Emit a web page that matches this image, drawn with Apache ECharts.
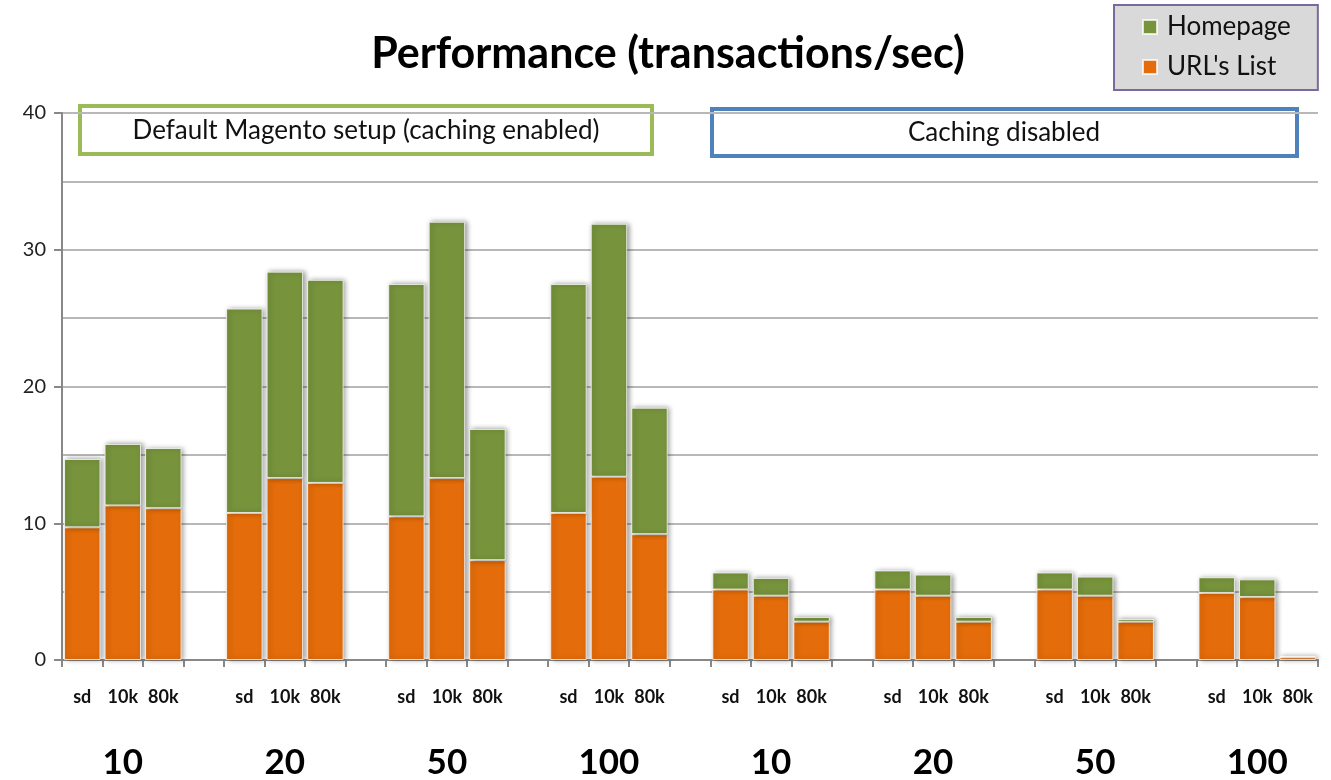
<!DOCTYPE html>
<html>
<head>
<meta charset="utf-8">
<script src="https://cdn.jsdelivr.net/npm/echarts@6/dist/echarts.min.js"></script>
<style>
html,body{margin:0;padding:0;background:#fff;}
#chart{width:1331px;height:780px;}
</style>
</head>
<body>
<div id="chart"></div>
<script>
// ---- data ----
var groupLabels = ['10', '20', '50', '100', '10', '20', '50', '100'];
var subLabels = ['sd', '10k', '80k'];
var urlList = [
  9.7, 11.3, 11.1,
  10.75, 13.3, 12.95,
  10.5, 13.3, 7.3,
  10.75, 13.4, 9.2,
  5.15, 4.7, 2.8,
  5.15, 4.7, 2.8,
  5.15, 4.7, 2.8,
  4.9, 4.6, 0.2
];
var homepage = [
  5.0, 4.5, 4.4,
  14.95, 15.1, 14.85,
  17.0, 18.75, 9.6,
  16.75, 18.5, 9.25,
  1.25, 1.3, 0.35,
  1.4, 1.55, 0.35,
  1.25, 1.4, 0.2,
  1.15, 1.3, 0.1
];
var yTicks = [0, 10, 20, 30, 40];

// ---- build 31-slot category axis (3 bars + gap per group) ----
var cats = [], groupCats = [], urlData = [], homeData = [];
for (var g = 0; g < groupLabels.length; g++) {
  for (var s = 0; s < 3; s++) {
    var i = g * 3 + s;
    cats.push(subLabels[s]);
    groupCats.push(s === 1 ? groupLabels[g] : '');
    urlData.push(urlList[i]);
    homeData.push(homepage[i]);
  }
  if (g < groupLabels.length - 1) {
    cats.push(' ');
    groupCats.push(' ');
    urlData.push(null);
    homeData.push(null);
  }
}

var FONT = 'Lato, "Open Sans", sans-serif';
var chart = echarts.init(document.getElementById('chart'), null, {renderer: 'canvas'});

var barStyle = function (color) {
  return {
    color: color,
    borderColor: 'rgba(255,255,255,0.75)',
    borderWidth: 1,
    shadowColor: 'rgba(0,0,0,0.4)',
    shadowBlur: 5,
    shadowOffsetX: 2,
    shadowOffsetY: 0
  };
};

var option = {
  backgroundColor: '#ffffff',
  animation: false,
  title: {
    text: 'Performance (transactions/sec)',
    left: 663,
    textAlign: 'center',
    top: 28,
    textStyle: {fontFamily: FONT, fontWeight: 'bold', fontSize: 43, color: '#000'}
  },
  legend: {
    data: ['Homepage', "URL's List"],
    orient: 'vertical',
    left: 1114,
    top: 5,
    backgroundColor: '#d9d9d9',
    borderColor: '#7a6a9a',
    borderWidth: 2,
    borderRadius: 0,
    padding: [9, 27, 10, 28],
    itemGap: 14,
    itemWidth: 14,
    itemHeight: 14,
    icon: 'rect',
    textStyle: {fontFamily: FONT, fontSize: 26, color: '#111', padding: [0, 0, 0, 5]}
  },
  grid: {left: 62, right: 13, top: 113, bottom: 120, containLabel: false},
  xAxis: [
    {
      type: 'category',
      data: cats,
      position: 'bottom',
      axisLine: {show: true, lineStyle: {color: '#888', width: 2}},
      axisTick: {show: true, interval: 0, length: 7, lineStyle: {color: '#888', width: 2}},
      axisLabel: {interval: 0, margin: 28, fontFamily: FONT, fontWeight: 'bold', fontSize: 18, color: '#111'},
      splitLine: {show: false}
    },
    {
      type: 'category',
      data: groupCats,
      position: 'bottom',
      offset: 0,
      axisLine: {show: false},
      axisTick: {show: false},
      axisLabel: {interval: 0, margin: 85, fontFamily: FONT, fontWeight: 'bold', fontSize: 35, color: '#000'},
      splitLine: {show: false}
    }
  ],
  yAxis: {
    type: 'value',
    min: 0,
    max: 40,
    interval: 10,
    axisLine: {show: true, lineStyle: {color: '#888', width: 2}},
    axisTick: {show: true, length: 8, lineStyle: {color: '#888', width: 2}},
    axisLabel: {margin: 16, fontFamily: FONT, fontSize: 20, color: '#222'},
    splitLine: {show: true, lineStyle: {color: '#b8b8b8', width: 2}},
    minorTick: {show: false, splitNumber: 2},
    minorSplitLine: {show: true, lineStyle: {color: '#b8b8b8', width: 2}}
  },
  series: [
    {
      name: "URL's List",
      type: 'bar',
      stack: 'total',
      data: urlData,
      barCategoryGap: '10%',
      itemStyle: barStyle('#E46C0A'),
      z: 3
    },
    {
      name: 'Homepage',
      type: 'bar',
      stack: 'total',
      data: homeData,
      barCategoryGap: '10%',
      itemStyle: barStyle('#77933C'),
      z: 3
    }
  ],
  graphic: [
    {
      type: 'group',
      z: 100,
      children: [
        {
          type: 'rect',
          shape: {x: 80, y: 106, width: 572, height: 48},
          style: {fill: '#fff', stroke: '#9BBB59', lineWidth: 4}
        },
        {
          type: 'text',
          style: {
            x: 366, y: 131, text: 'Default Magento setup (caching enabled)',
            textAlign: 'center', textVerticalAlign: 'middle',
            font: '26px ' + FONT, fill: '#111'
          }
        },
        {
          type: 'rect',
          shape: {x: 712, y: 109, width: 585, height: 47},
          style: {fill: '#fff', stroke: '#4F81BD', lineWidth: 4}
        },
        {
          type: 'text',
          style: {
            x: 1004, y: 133, text: 'Caching disabled',
            textAlign: 'center', textVerticalAlign: 'middle',
            font: '26px ' + FONT, fill: '#111'
          }
        }
      ]
    }
  ]
};
chart.setOption(option);
</script>
</body>
</html>
